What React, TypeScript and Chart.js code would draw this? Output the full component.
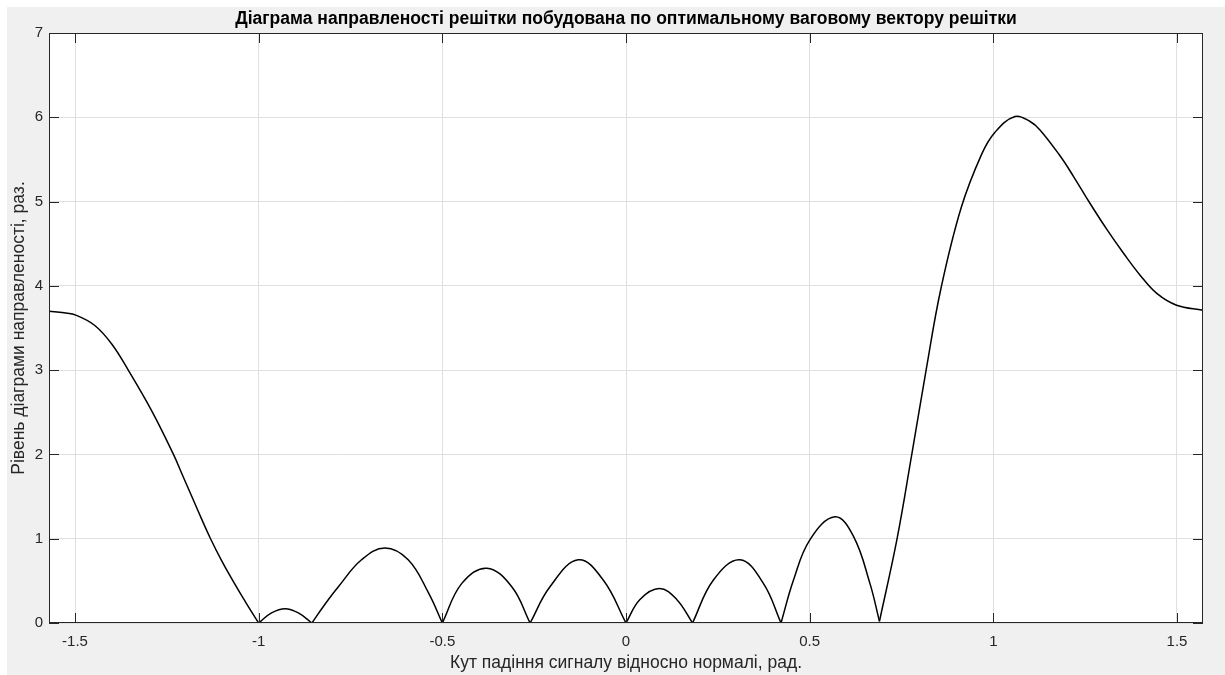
import React, { useEffect, useRef } from 'react';
import { Chart, registerables } from 'chart.js';

Chart.register(...registerables);

// Angle of incidence (rad) and directivity level
const angleRad = [
  -1.5708, -1.53, -1.496, -1.446, -1.4, -1.355, -1.289, -1.232, -1.207, -1.182, -1.157, -1.131, -1.102, -1.07, -1.029,
  -1.0, -0.965, -0.928, -0.892, -0.855,
  -0.82, -0.783, -0.72, -0.656, -0.593, -0.538, -0.5,
  -0.447, -0.379, -0.311, -0.261,
  -0.207, -0.13, -0.062, 0.0,
  0.038, 0.091, 0.138, 0.181,
  0.238, 0.31, 0.374, 0.422,
  0.456, 0.501, 0.569, 0.619, 0.664, 0.69,
  0.738, 0.778, 0.817, 0.857, 0.912, 0.968, 1.004, 1.059, 1.1, 1.127, 1.182, 1.218, 1.263, 1.309, 1.354, 1.399, 1.445, 1.499, 1.5708,
];
const level = [
  3.7, 3.68, 3.65, 3.53, 3.31, 3.0, 2.5, 2.0, 1.75, 1.5, 1.25, 1.0, 0.75, 0.5, 0.2,
  0.0, 0.12, 0.17, 0.12, 0.0,
  0.22, 0.43, 0.75, 0.89, 0.75, 0.36, 0.0,
  0.47, 0.65, 0.43, 0.0,
  0.43, 0.75, 0.51, 0.0,
  0.28, 0.41, 0.28, 0.0,
  0.51, 0.75, 0.47, 0.0,
  0.51, 0.99, 1.26, 1.03, 0.47, 0.02,
  1.0, 2.0, 3.0, 3.96, 4.92, 5.56, 5.82, 6.01, 5.95, 5.85, 5.54, 5.3, 4.98, 4.67, 4.39, 4.13, 3.91, 3.77, 3.71,
];

const xTickValues = [-1.5, -1, -0.5, 0, 0.5, 1, 1.5];
const yTickValues = [0, 1, 2, 3, 4, 5, 6, 7];
const xMin = -Math.PI / 2;
const xMax = Math.PI / 2;
const yMin = 0;
const yMax = 7;

const titleText = 'Діаграма направленості решітки побудована по оптимальному ваговому вектору решітки';
const xLabel = 'Кут падіння сигналу відносно нормалі, рад.';
const yLabel = 'Рівень діаграми направленості, раз.';

const FONT = "'Liberation Sans', Arial, Helvetica, sans-serif";
const AXIS_COLOR = '#262626';

// Split the curve into lobes at its nulls so each null stays a sharp cusp
function lobeDatasets() {
  const cuts = [0];
  for (let i = 1; i < level.length - 1; i++) {
    if (level[i] <= level[i - 1] && level[i] <= level[i + 1]) cuts.push(i);
  }
  cuts.push(level.length - 1);
  const sets: any[] = [];
  for (let k = 0; k < cuts.length - 1; k++) {
    const pts = [];
    for (let i = cuts[k]; i <= cuts[k + 1]; i++) pts.push({ x: angleRad[i], y: level[i] });
    sets.push({
      data: pts,
      borderColor: '#000000',
      borderWidth: 1.5,
      pointRadius: 0,
      fill: false,
      tension: 0.4,
    });
  }
  return sets;
}

const matlabAxes = {
  id: 'matlabAxes',
  beforeDraw(chart: any) {
    const { ctx, chartArea: a } = chart;
    ctx.save();
    ctx.fillStyle = '#ffffff';
    ctx.fillRect(a.left, a.top, a.right - a.left, a.bottom - a.top);
    ctx.restore();
  },
  afterDraw(chart: any) {
    const { ctx, chartArea: a, scales } = chart;
    const tl = 10;
    ctx.save();
    ctx.strokeStyle = AXIS_COLOR;
    ctx.lineWidth = 1;
    ctx.beginPath();
    xTickValues.forEach((v) => {
      const px = Math.round(scales.x.getPixelForValue(v)) + 0.5;
      ctx.moveTo(px, a.bottom);
      ctx.lineTo(px, a.bottom - tl);
      ctx.moveTo(px, a.top);
      ctx.lineTo(px, a.top + tl);
    });
    yTickValues.forEach((v) => {
      const py = Math.round(scales.y.getPixelForValue(v)) + 0.5;
      ctx.moveTo(a.left, py);
      ctx.lineTo(a.left + tl, py);
      ctx.moveTo(a.right, py);
      ctx.lineTo(a.right - tl, py);
    });
    ctx.stroke();
    ctx.strokeRect(Math.round(a.left) + 0.5, Math.round(a.top) + 0.5, Math.round(a.right - a.left) - 1, Math.round(a.bottom - a.top) - 1);
    ctx.restore();
  },
};

export default function App() {
  const canvasRef = useRef<HTMLCanvasElement | null>(null);

  useEffect(() => {
    const canvas = canvasRef.current;
    if (!canvas) return;
    const chart = new Chart(canvas, {
      type: 'line',
      data: { datasets: lobeDatasets() },
      options: {
        animation: false,
        responsive: false,
        events: [],
        layout: { padding: { left: 0, right: 22, top: 0, bottom: 0 } },
        plugins: {
          legend: { display: false },
          tooltip: { enabled: false },
          title: {
            display: true,
            text: titleText,
            fullSize: false,
            color: '#000000',
            font: { family: FONT, size: 17.5, weight: 'bold' },
            padding: { top: 2, bottom: 3 },
          },
        },
        scales: {
          x: {
            type: 'linear',
            min: xMin,
            max: xMax,
            afterBuildTicks: (scale: any) => {
              scale.ticks = xTickValues.map((v) => ({ value: v }));
            },
            afterFit: (scale: any) => {
              scale.height = 52;
            },
            ticks: {
              color: AXIS_COLOR,
              font: { family: FONT, size: 15 },
              padding: 10,
              maxRotation: 0,
              autoSkip: false,
              callback: (v: any) => String(v),
            },
            grid: { color: '#dfdfdf', lineWidth: 1, drawTicks: false },
            border: { display: false },
            title: {
              display: true,
              text: xLabel,
              color: AXIS_COLOR,
              font: { family: FONT, size: 17.5 },
              padding: { top: 0, bottom: 1.5 },
            },
          },
          y: {
            type: 'linear',
            min: yMin,
            max: yMax,
            afterBuildTicks: (scale: any) => {
              scale.ticks = yTickValues.map((v) => ({ value: v }));
            },
            afterFit: (scale: any) => {
              scale.width = 42;
            },
            ticks: {
              color: AXIS_COLOR,
              font: { family: FONT, size: 15 },
              padding: 6,
              autoSkip: false,
              callback: (v: any) => String(v),
            },
            grid: { color: '#dfdfdf', lineWidth: 1, drawTicks: false },
            border: { display: false },
            title: {
              display: true,
              text: yLabel,
              color: AXIS_COLOR,
              font: { family: FONT, size: 17.5 },
              padding: { top: 2, bottom: 0 },
            },
          },
        },
      },
      plugins: [matlabAxes],
    } as any);
    return () => chart.destroy();
  }, []);

  return (
    <div
      style={{
        position: 'fixed',
        left: 7,
        top: 7,
        width: 1218,
        height: 668,
        background: '#f0f0f0',
      }}
    >
      <canvas ref={canvasRef} width={1218} height={668} style={{ width: 1218, height: 668, display: 'block' }} />
    </div>
  );
}
